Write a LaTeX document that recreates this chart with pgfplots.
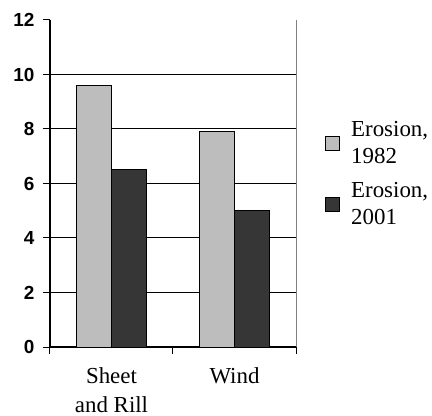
\documentclass[border=0pt]{standalone}
\usepackage{fontspec}
\setmainfont{Liberation Serif}
\newfontfamily\arial{Liberation Sans}
\usepackage{pgfplots}
\pgfplotsset{compat=1.18}
\definecolor{lightbar}{HTML}{BDBDBD}
\definecolor{darkbar}{HTML}{363636}
\begin{document}
\begin{tikzpicture}
\path[use as bounding box] (-50bp,-69bp) rectangle (382bp,347bp);
\begin{axis}[
    at={(0,0)}, anchor=south west,
    scale only axis,
    width=246bp, height=327bp,
    ybar=0pt,
    bar width=0.285,
    xmin=-0.5, xmax=1.5,
    ymin=0, ymax=12,
    axis x line*=bottom,
    axis y line*=left,
    axis line style={line width=1.2bp, black},
    ytick={0,2,...,10},
    extra y ticks={12},
    extra y tick style={ymajorgrids=false},
    ymajorgrids,
    grid style={line width=1bp, black},
    yticklabel style={font=\arial\bfseries\fontsize{19}{19}\selectfont, xshift=-5bp},
    /pgf/number format/assume math mode=true,
    xtick={-0.5,0.5,1.5},
    xticklabels={},
    extra x ticks={0,1},
    extra x tick labels={{Sheet\\and Rill}, Wind},
    extra x tick style={major tick length=0pt, xmajorgrids=false,
        xticklabel style={align=center, font=\fontsize{23}{29}\selectfont, yshift=-17bp}},
    major tick length=7bp,
    tick style={line width=1bp, black},
    tick align=outside,
    clip=false,
    legend style={draw=none, fill=none, at={(1,0.53)}, anchor=west,
        xshift=29bp, font=\fontsize{23}{27}\selectfont,
        row sep=13bp, cells={align=left}, inner xsep=0pt},
    legend cell align=left,
    legend image code/.code={\draw[#1, line width=0.9bp] (0bp,-7bp) rectangle (14bp,7bp); \path (23bp,0bp);},
]
\addplot[fill=lightbar, draw=black, line width=1bp] coordinates {(0,9.6) (1,7.9)};
\addplot[fill=darkbar, draw=black, line width=1bp] coordinates {(0,6.5) (1,5.0)};
\legend{{Erosion,\\1982}, {Erosion,\\2001}}
\draw[gray, line width=1bp] (rel axis cs:1,0) -- (rel axis cs:1,1);
\end{axis}
\end{tikzpicture}
\end{document}
